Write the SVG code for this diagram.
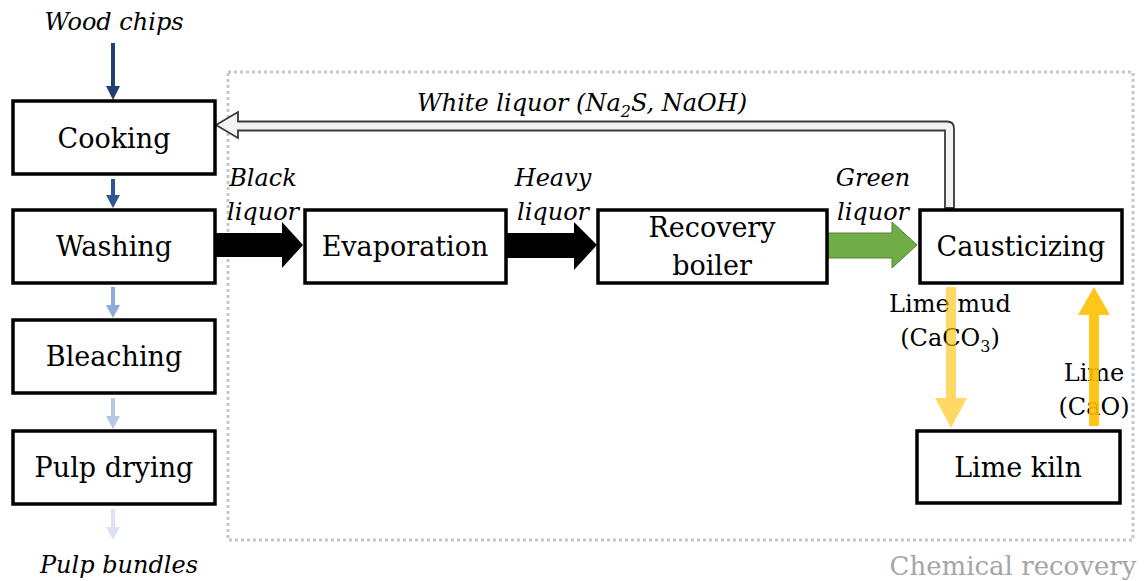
<svg xmlns="http://www.w3.org/2000/svg" width="1146" height="581" viewBox="0 0 1146 581">
<style>
.box{fill:#fff;stroke:#000;stroke-width:3.5}
.lbl{font-family:"DejaVu Serif","Liberation Serif",serif;font-size:27px;fill:#000;text-anchor:middle}
.it{font-family:"DejaVu Serif","Liberation Serif",serif;font-size:24px;font-style:italic;fill:#000;text-anchor:middle}
.sm{font-family:"DejaVu Serif","Liberation Serif",serif;font-size:24px;fill:#000;text-anchor:middle}
</style>
<rect x="228" y="72" width="905" height="468" fill="none" stroke="#C8C8C8" stroke-width="3" stroke-dasharray="3 3"/>
<text x="1013" y="575" class="lbl" style="fill:#A6A6A6;font-size:26px">Chemical recovery</text>
<g id="connectors">
<line x1="113" y1="43" x2="113" y2="87" stroke="#203F73" stroke-width="4"/>
<polygon points="106,86 120,86 113,100" fill="#203F73"/>
<line x1="113" y1="179" x2="113" y2="196" stroke="#2F5597" stroke-width="4"/>
<polygon points="106,195 120,195 113,208" fill="#2F5597"/>
<line x1="113" y1="287" x2="113" y2="306" stroke="#8EA9DB" stroke-width="4"/>
<polygon points="106,305 120,305 113,318" fill="#8EA9DB"/>
<line x1="113" y1="398" x2="113" y2="417" stroke="#B4C7E7" stroke-width="4"/>
<polygon points="106,416 120,416 113,429" fill="#B4C7E7"/>
<line x1="113" y1="509" x2="113" y2="528" stroke="#DAE3F3" stroke-width="4"/>
<polygon points="106,527 120,527 113,540" fill="#DAE3F3"/>
<path d="M216,125 L238,112 L238,121.5 L947,121.5 Q954,121.5 954,128.5 L954,208 L945,208 L945,130.5 L238,130.5 L238,138 Z" fill="#F2F2F2" stroke="#3A3A3A" stroke-width="1.8" stroke-linejoin="miter"/>
<polygon points="216,233 282,233 282,222 303,245 282,268 282,257 216,257" fill="#000"/>
<polygon points="507,233 574,233 574,222 597,245 574,270 574,258 507,258" fill="#000"/>
<polygon points="828,233 892,233 892,222 917,245 892,268 892,258 828,258" fill="#70AD47" stroke="#548235" stroke-width="1"/>
</g>
<g id="cooking"><rect class="box" x="13" y="101" width="202" height="73"/><text class="lbl" x="114" y="148">Cooking</text></g>
<g id="washing"><rect class="box" x="13" y="210" width="202" height="73"/><text class="lbl" x="114" y="256">Washing</text></g>
<g id="bleaching"><rect class="box" x="13" y="320" width="202" height="73"/><text class="lbl" x="114" y="366">Bleaching</text></g>
<g id="pulpdrying"><rect class="box" x="13" y="431" width="202" height="73"/><text class="lbl" x="114" y="477">Pulp drying</text></g>
<g id="evaporation"><rect class="box" x="305" y="210" width="201" height="73"/><text class="lbl" x="405" y="256">Evaporation</text></g>
<g id="recoveryboiler"><rect class="box" x="598" y="210" width="229" height="73"/><text class="lbl" x="712" y="237">Recovery</text><text class="lbl" x="712" y="275">boiler</text></g>
<g id="causticizing"><rect class="box" x="920" y="210" width="202" height="73"/><text class="lbl" x="1021" y="256">Causticizing</text></g>
<g id="limekiln"><rect class="box" x="917" y="431" width="203" height="72"/><text class="lbl" x="1018" y="477">Lime kiln</text></g>
<g id="labels">
<text class="it" x="114" y="30">Wood chips</text>
<text class="it" x="119" y="573">Pulp bundles</text>
<text class="it" x="582" y="111">White liquor (<tspan>Na</tspan><tspan font-size="16" dy="6">2</tspan><tspan dy="-6">S, NaOH)</tspan></text>
<text class="it" x="263" y="186">Black</text>
<text class="it" x="263" y="220">liquor</text>
<text class="it" x="553" y="186">Heavy</text>
<text class="it" x="553" y="220">liquor</text>
<text class="it" x="873" y="186">Green</text>
<text class="it" x="873" y="220">liquor</text>
<text class="sm" x="950" y="312">Lime mud</text>
<text class="sm" x="950" y="346">(CaCO<tspan font-size="16" dy="6">3</tspan><tspan dy="-6">)</tspan></text>
<text class="sm" x="1094" y="381">Lime</text>
<text class="sm" x="1094" y="415">(CaO)</text>
</g>
<g id="lime-arrows">
<polygon points="946,287 956,287 956,398 967,398 951,428 935,398 946,398" fill="#FFC000" fill-opacity="0.6"/>
<polygon points="1089,426 1099,426 1099,315 1110,315 1094,287 1078,315 1089,315" fill="#FFC000" fill-opacity="0.9"/>
</g>
</svg>
